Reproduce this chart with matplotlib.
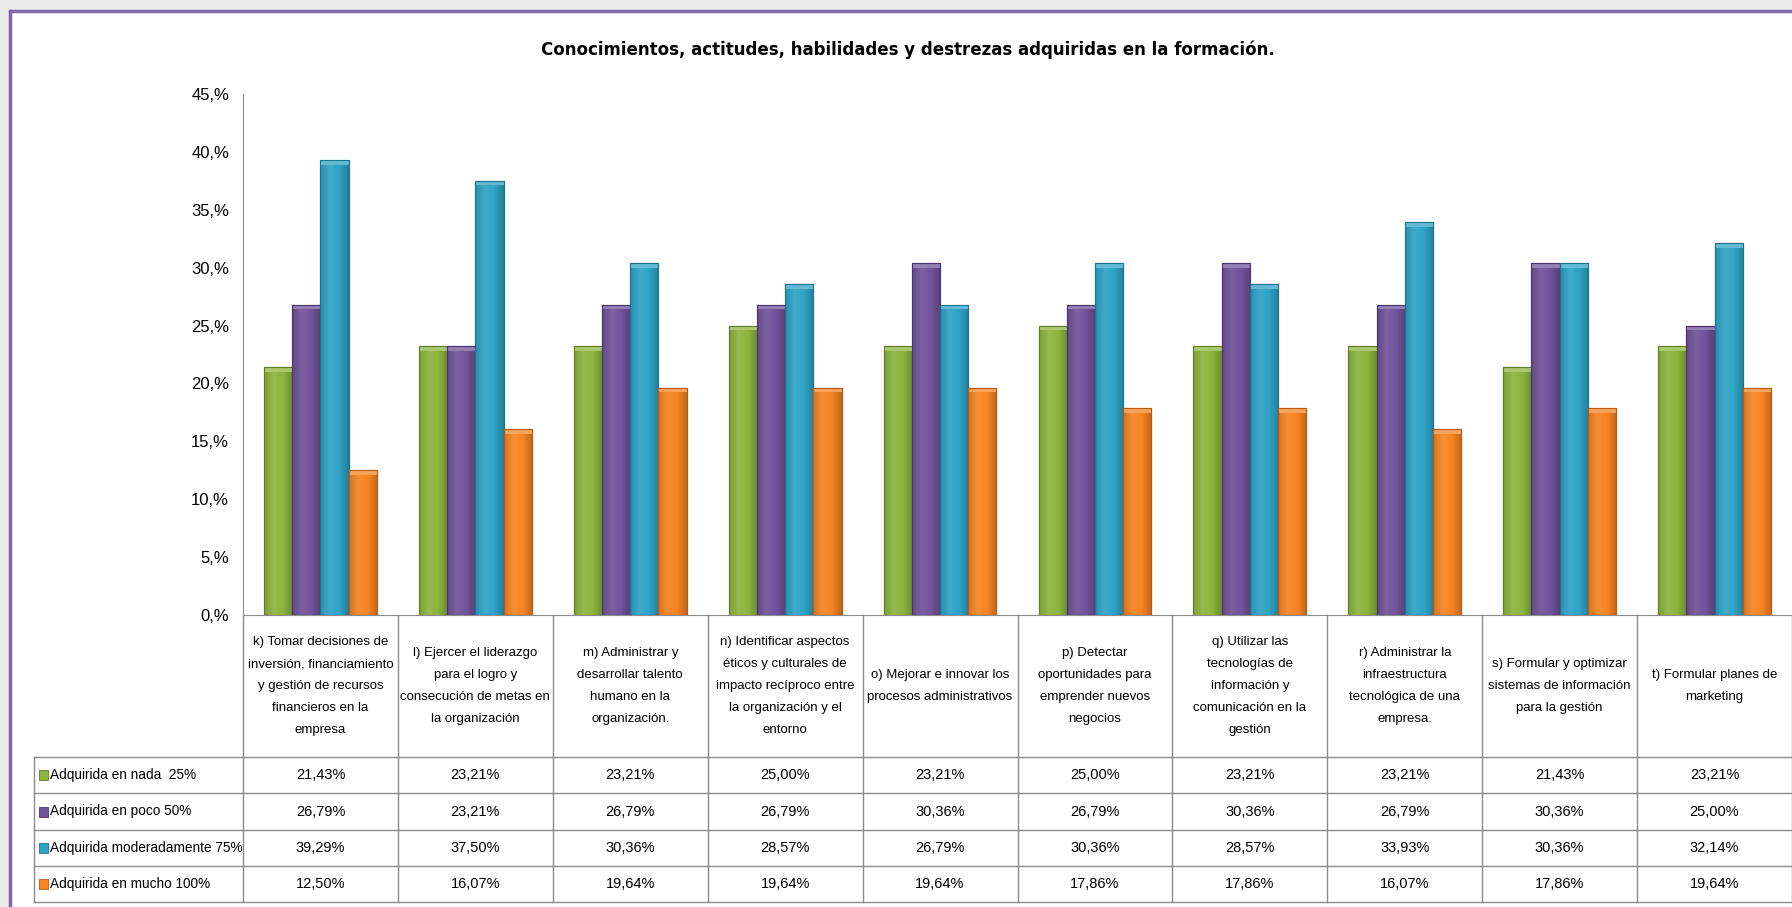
import numpy as np
import matplotlib
matplotlib.use("Agg")
import matplotlib.pyplot as plt
from matplotlib.patches import Rectangle
from matplotlib.colors import LinearSegmentedColormap, to_rgb

categories = [
    "k) Tomar decisiones de\ninversión, financiamiento\ny gestión de recursos\nfinancieros en la\nempresa",
    "l) Ejercer el liderazgo\npara el logro y\nconsecución de metas en\nla organización",
    "m) Administrar y\ndesarrollar talento\nhumano en la\norganización.",
    "n) Identificar aspectos\néticos y culturales de\nimpacto recíproco entre\nla organización y el\nentorno",
    "o) Mejorar e innovar los\nprocesos administrativos",
    "p) Detectar\noportunidades para\nemprender nuevos\nnegocios",
    "q) Utilizar las\ntecnologías de\ninformación y\ncomunicación en la\ngestión",
    "r) Administrar la\ninfraestructura\ntecnológica de una\nempresa.",
    "s) Formular y optimizar\nsistemas de información\npara la gestión",
    "t) Formular planes de\nmarketing",
]
series_names = ["Adquirida en nada  25%", "Adquirida en poco 50%",
                "Adquirida moderadamente 75%", "Adquirida en mucho 100%"]
nada = [21.43, 23.21, 23.21, 25.00, 23.21, 25.00, 23.21, 23.21, 21.43, 23.21]
poco = [26.79, 23.21, 26.79, 26.79, 30.36, 26.79, 30.36, 26.79, 30.36, 25.00]
moderada = [39.29, 37.50, 30.36, 28.57, 26.79, 30.36, 28.57, 33.93, 30.36, 32.14]
mucho = [12.50, 16.07, 19.64, 19.64, 19.64, 17.86, 17.86, 16.07, 17.86, 19.64]
yticks = [0, 5, 10, 15, 20, 25, 30, 35, 40, 45]

colors = ["#8db43e", "#71539a", "#2fa3c6", "#f68423"]
edges = ["#5f7d26", "#4a3270", "#1a7391", "#b85a12"]
series = [nada, poco, moderada, mucho]


def shade(c, f):
    r = np.array(to_rgb(c))
    if f > 0:
        return tuple(r + (1 - r) * f)
    return tuple(r * (1 + f))


W, H = 1792, 907
fig = plt.figure(figsize=(W / 100, H / 100), dpi=100)
fig.patch.set_facecolor("white")

# frame (gray outside, purple border)
fig.add_artist(Rectangle((0, 1 - 9 / H), 1, 9 / H, transform=fig.transFigure,
                         color="#ececec", zorder=0))
fig.add_artist(Rectangle((0, 0), 9 / W, 1, transform=fig.transFigure,
                         color="#ececec", zorder=0))
fig.add_artist(plt.Line2D([10 / W, 1], [1 - 11 / H, 1 - 11 / H], color="#7d68a8",
                          lw=2.5, transform=fig.transFigure))
fig.add_artist(plt.Line2D([10 / W, 10 / W], [0, 1 - 11 / H], color="#7d68a8",
                          lw=2.5, transform=fig.transFigure))

font = ["Liberation Sans", "DejaVu Sans"]

fig.text(908 / W, 1 - 50 / H,
         "Conocimientos, actitudes, habilidades y destrezas adquiridas en la formación.",
         ha="center", va="center", fontsize=12, fontweight="bold", family="DejaVu Sans")

# bar axes
x0, y0, ytop = 243, 615, 94
ax = fig.add_axes([x0 / W, (H - y0) / H, (W - x0) / W, (y0 - ytop) / H])
x = np.arange(len(categories))
bw = 0.182
grad = np.linspace(0, 1, 64).reshape(1, -1)
for i, vals in enumerate(series):
    bars = ax.bar(x + (i - 1.5) * bw, vals, bw, color=colors[i], edgecolor=edges[i],
                  linewidth=0.8, zorder=3)
    cmap = LinearSegmentedColormap.from_list(
        f"g{i}", [shade(colors[i], -0.12), shade(colors[i], 0.08), colors[i],
                  shade(colors[i], -0.22)])
    for b in bars:
        bx, bwid, bh = b.get_x(), b.get_width(), b.get_height()
        im = ax.imshow(grad, extent=[bx, bx + bwid, 0, bh], aspect="auto",
                       cmap=cmap, zorder=3.5, interpolation="bilinear")
        im.set_clip_path(b)
        ax.add_patch(Rectangle((bx, bh - 0.4), bwid, 0.4, facecolor=shade(colors[i], 0.25),
                               edgecolor="none", zorder=3.6))
        ax.add_patch(Rectangle((bx, 0), bwid, bh, facecolor="none",
                               edgecolor=edges[i], lw=0.8, zorder=3.7))
ax.set_xlim(-0.5, 9.5)
ax.set_ylim(0, 45)
ax.set_yticks(yticks)
ax.set_yticklabels([f"{v},%" for v in yticks], family=font, fontsize=12)
ax.tick_params(axis="y", length=0, pad=10)
ax.set_xticks([])
for s in ["top", "right"]:
    ax.spines[s].set_visible(False)
for s in ["left", "bottom"]:
    ax.spines[s].set_color("#8c8c8c")

# data table below
tbl_bottom = 902
tax = fig.add_axes([x0 / W, (H - tbl_bottom) / H, (W - x0) / W, (tbl_bottom - y0) / H])
tax.set_xlim(-0.5, 9.5)
tax.set_ylim(tbl_bottom - y0, 0)
tax.axis("off")
ppu = (W - x0) / 10
leg_left = -0.5 - (x0 - 34) / ppu
row_lines = [142, 178, 215, 251, 287]
line_kw = dict(color="#8c8c8c", lw=1, clip_on=False)

for k in range(11):
    tax.plot([k - 0.5, k - 0.5], [0, row_lines[-1]], **line_kw)
tax.plot([leg_left, leg_left], [row_lines[0], row_lines[-1]], **line_kw)
for r in row_lines:
    tax.plot([leg_left, 9.5], [r, r], **line_kw)

for j, lab in enumerate(categories):
    tax.text(j, row_lines[0] / 2, lab, ha="center", va="center", family=font,
             fontsize=9.5, linespacing=2.1)

for i, vals in enumerate(series):
    yc = (row_lines[i] + row_lines[i + 1]) / 2
    tax.add_patch(Rectangle((leg_left + 5 / ppu, yc - 5), 9 / ppu, 10,
                            facecolor=colors[i], edgecolor=edges[i], lw=0.6,
                            clip_on=False))
    tax.text(leg_left + 16 / ppu, yc, series_names[i], ha="left", va="center",
             family=font, fontsize=9.8, clip_on=False)
    for j, v in enumerate(vals):
        tax.text(j, yc, f"{v:.2f}%".replace(".", ","), ha="center", va="center",
                 family=font, fontsize=10.5)

fig.savefig("out.png", dpi=100)
